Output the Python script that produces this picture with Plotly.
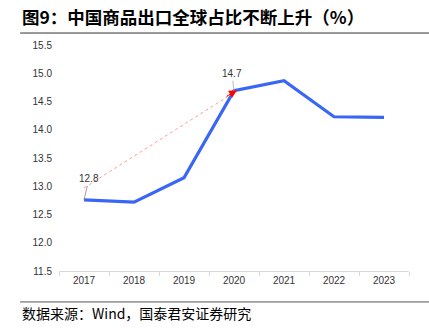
import plotly.graph_objects as go

years = ["2017", "2018", "2019", "2020", "2021", "2022", "2023"]
share = [12.76, 12.72, 13.15, 14.69, 14.87, 14.23, 14.22]
y_ticks = [11.5, 12.0, 12.5, 13.0, 13.5, 14.0, 14.5, 15.0, 15.5]
y_labels = ["11.5", "12.0", "12.5", "13.0", "13.5", "14.0", "14.5", "15.0", "15.5"]
trend_start = 12.97
trend_end = 14.7
label_start = "12.8"
label_end = "14.7"

fig = go.Figure()
fig.add_trace(go.Scatter(
    x=years, y=share, mode="lines",
    line=dict(color="#3A66F5", width=3.2),
    hoverinfo="skip", showlegend=False,
))

fig.update_layout(
    width=429, height=330,
    margin=dict(l=59, r=20, t=45, b=59),
    paper_bgcolor="white", plot_bgcolor="white",
    font=dict(family="Liberation Sans, Arial, sans-serif", size=10, color="#333333"),
    showlegend=False,
)
fig.update_xaxes(
    type="category", range=[-0.5, 6.5],
    showgrid=False, showline=True, linecolor="#D9D9D9", linewidth=1,
    ticks="outside", tickson="boundaries", ticklen=4, tickcolor="#D9D9D9",
    tickfont=dict(size=10, color="#333333"), zeroline=False,
)
fig.update_yaxes(
    range=[11.5, 15.5], tickvals=y_ticks, ticktext=y_labels,
    showgrid=False, showline=False, zeroline=False,
    tickfont=dict(size=10, color="#333333"), ticks="", ticklabelstandoff=6,
)

# dotted red trend line with arrowhead
fig.add_shape(type="line", xref="x", yref="y",
              x0=0, y0=trend_start, x1=3.04, y1=trend_end - 0.02,
              line=dict(color="#FF8080", width=0.8, dash="dot"))
fig.add_annotation(x=3.06, y=trend_end, xref="x", yref="y",
                   ax=-12, ay=7, showarrow=True, arrowhead=2, arrowsize=1.6,
                   arrowwidth=1, arrowcolor="#FF0000", text="")

# data labels
i0 = 0
i3 = 3
fig.add_annotation(x=i0, y=share[i0], xref="x", yref="y", text=label_start, showarrow=True,
                   ax=5, ay=-21, arrowhead=0, arrowwidth=0.8, arrowcolor="#888888",
                   font=dict(size=10, color="#333333"))
fig.add_annotation(x=i3, y=share[i3], xref="x", yref="y", text=label_end, showarrow=True,
                   ax=-2, ay=-17, arrowhead=0, arrowwidth=0.8, arrowcolor="#AAAAAA",
                   font=dict(size=10, color="#333333"))

# title and footer
fig.add_annotation(xref="paper", yref="paper", x=-0.111, y=1.128, xanchor="left", yanchor="middle",
                   text="<b>图9：中国商品出口全球占比不断上升（%）</b>", showarrow=False,
                   font=dict(family="Noto Sans CJK SC", size=17.5, color="#000000"))
fig.add_shape(type="line", xref="paper", yref="paper", x0=-0.111, x1=1.06, y0=1.053, y1=1.053,
              line=dict(color="#333333", width=1))
fig.add_shape(type="line", xref="paper", yref="paper", x0=-0.111, x1=1.06, y0=-0.137, y1=-0.137,
              line=dict(color="#555555", width=1))
fig.add_annotation(xref="paper", yref="paper", x=-0.111, y=-0.186, xanchor="left", yanchor="middle",
                   text="数据来源：Wind，国泰君安证券研究", showarrow=False,
                   font=dict(family="Noto Sans CJK SC", size=14, color="#000000"))

fig.write_html("out.html")
